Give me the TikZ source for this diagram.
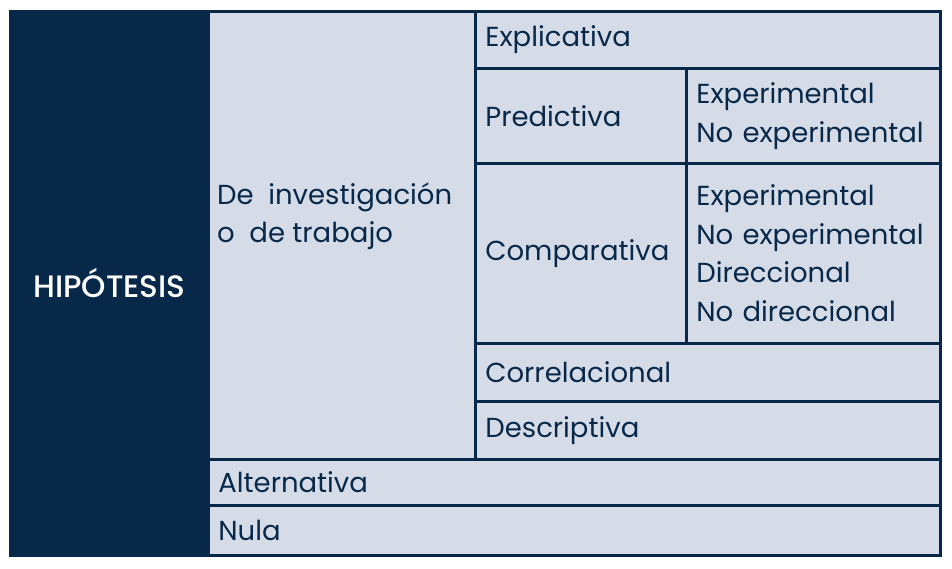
\documentclass[tikz,border=0pt]{standalone}
\usepackage{fontspec}
\setmainfont{Poppins}
\newfontfamily\hipfont{Poppins Medium}
\definecolor{navy}{HTML}{08284A}
\definecolor{pale}{HTML}{D5DCE8}

\begin{document}
\begin{tikzpicture}[x=1pt,y=-1pt]

\tikzset{cell/.style = {draw=navy, fill=pale, line width=2.8pt, anchor=north west, inner ysep=0pt, inner xsep=10pt, align=left, text=navy, font=\fontsize{27.5}{38.5}\selectfont}}
\tikzset{txt/.style = {anchor=west, inner sep=0pt, align=left, text=navy, font=\fontsize{27.5}{38.5}\selectfont}}
\useasboundingbox (0,0) rectangle (952,568);
%cells
\node[cell, fill=navy, text=white, align=center, minimum width=198pt, minimum height=544pt, text width=178pt, font=\fontsize{31}{32}\selectfont\hipfont] (hip) at (9,10) {HIPÓTESIS};
\node[cell, minimum width=267pt, minimum height=448pt, text width=247pt] (inv) at (207,10) {};
\node[cell, minimum width=465pt, minimum height=57pt, text width=445pt] (expl) at (474,10) {Explicativa};
\node[cell, minimum width=211pt, minimum height=95pt, text width=191pt] (pred) at (474,67) {Predictiva};
\node[cell, minimum width=254pt, minimum height=95pt, text width=234pt] (predsub) at (685,67) {Experimental\\No experimental};
\node[cell, minimum width=211pt, minimum height=180pt, text width=191pt] (comp) at (474,162) {Comparativa};
\node[cell, minimum width=254pt, minimum height=180pt, text width=234pt] (compsub) at (685,162) {Experimental\\No experimental\\Direccional\\No direccional};
\node[cell, minimum width=465pt, minimum height=58pt, text width=445pt] (corr) at (474,342) {Correlacional};
\node[cell, minimum width=465pt, minimum height=58pt, text width=445pt] (desc) at (474,400) {Descriptiva};
\node[cell, minimum width=732pt, minimum height=46pt, text width=712pt] (alt) at (207,458) {Alternativa};
\node[cell, minimum width=732pt, minimum height=50pt, text width=712pt] (nula) at (207,504) {Nula};
%text
\node[txt] (invtxt) at (217,216) {De\ \ investigación\\o\ \ de trabajo};

\end{tikzpicture}
\end{document}
